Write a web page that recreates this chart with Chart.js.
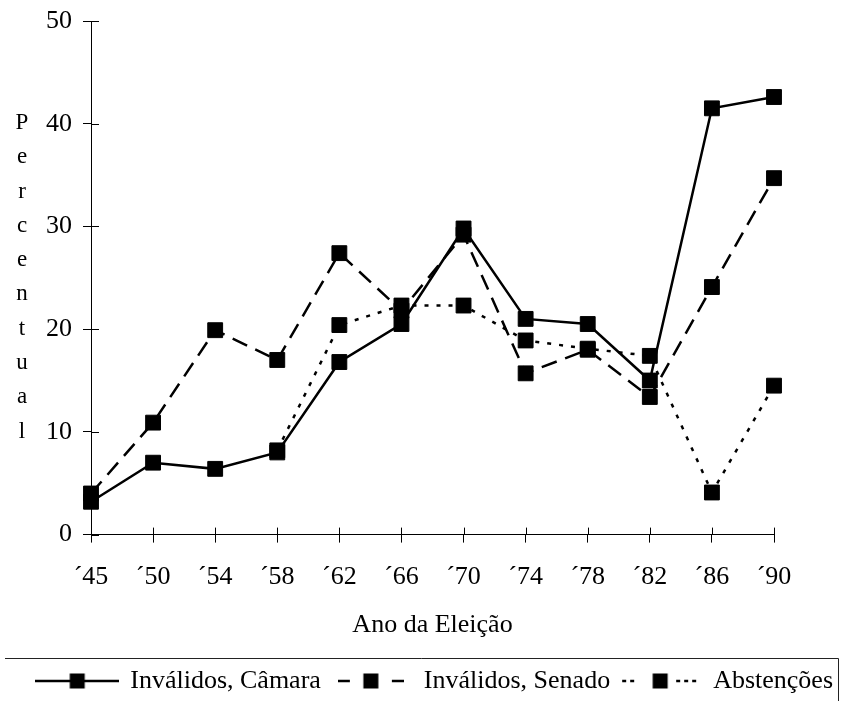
<!DOCTYPE html>
<html>
<head>
<meta charset="utf-8">
<script src="https://cdn.jsdelivr.net/npm/chart.js@4.4.1/dist/chart.umd.min.js"></script>
<style>
  html, body { margin: 0; padding: 0; background: #fff; }
  #wrap { position: relative; width: 843px; height: 711px; }
  #ytitle {
    position: absolute; left: 10px; top: 105px; width: 24px;
    font-family: "Liberation Serif", "Times New Roman", serif;
    font-size: 23px; line-height: 34.3px; text-align: center; color: #000;
  }
</style>
</head>
<body>
<div id="wrap">
  <canvas id="c" width="843" height="711"></canvas>
  <div id="ytitle"></div>
</div>
<script>
// ---- data ----
const years = ['´45', '´50', '´54', '´58', '´62', '´66', '´70', '´74', '´78', '´82', '´86', '´90'];
const invalidosCamara = [3.2, 7.0, 6.4, 8.0, 16.8, 20.5, 29.8, 21.0, 20.5, 15.0, 41.5, 42.6];
const invalidosSenado = [4.0, 10.9, 19.9, 17.0, 27.4, 21.8, 29.2, 15.7, 18.0, 13.4, 24.1, 34.7];
const abstencoes = [null, null, null, 8.2, 20.4, 22.3, 22.3, 18.9, 18.1, 17.4, 4.1, 14.5];
const yTicks = [0, 10, 20, 30, 40, 50];
const seriesNames = ['Inválidos, Câmara', 'Inválidos, Senado', 'Abstenções'];
const xTitle = 'Ano da Eleição';
const yTitle = 'Percentual';

document.getElementById('ytitle').innerHTML = yTitle.split('').map(ch => '<div>' + ch + '</div>').join('');

const FONT = '"Liberation Serif", "Times New Roman", serif';

function makeGlyph(kind) {
  const c = document.createElement('canvas');
  const w = kind === 'solid' ? 84 : (kind === 'dash' ? 66 : 84);
  c.width = w; c.height = 20;
  const g = c.getContext('2d');
  g.fillStyle = '#000'; g.strokeStyle = '#000'; g.lineWidth = 2.5;
  const mid = w / 2, y = 10;
  if (kind === 'solid') {
    g.beginPath(); g.moveTo(0, y); g.lineTo(w, y); g.stroke();
  } else if (kind === 'dash') {
    g.fillRect(mid - 33, y - 1.25, 12, 2.5);
    g.fillRect(mid + 21, y - 1.25, 12, 2.5);
  } else {
    [-38, -30, 16, 24, 32].forEach(o => g.fillRect(mid + o, y - 1.25, 4, 2.5));
  }
  g.fillRect(mid - 7.5, y - 7.5, 15, 15);
  return c;
}
const glyphs = [makeGlyph('solid'), makeGlyph('dash'), makeGlyph('dot')];

const innerTicks = {
  id: 'innerTicks',
  afterDraw(chart) {
    const ctx = chart.ctx, xs = chart.scales.x, ys = chart.scales.y;
    ctx.save();
    ctx.strokeStyle = '#000'; ctx.lineWidth = 1;
    const ax = ys.right, ay = xs.top;
    yTicks.forEach(v => {
      const py = Math.round(ys.getPixelForValue(v)) + 0.5;
      ctx.beginPath(); ctx.moveTo(ax, py); ctx.lineTo(ax + 8, py); ctx.stroke();
    });
    years.forEach((_, i) => {
      const px = Math.round(xs.getPixelForValue(i)) + 0.5;
      ctx.beginPath(); ctx.moveTo(px, ay); ctx.lineTo(px, ay - 7); ctx.stroke();
    });
    // legend frame (top and right edges)
    const lg = chart.legend;
    if (lg && lg.legendHitBoxes && lg.legendHitBoxes.length) {
      const hb = lg.legendHitBoxes[0];
      const cy = hb.top + hb.height / 2;
      const top = Math.round(cy - 23) + 0.5;
      ctx.strokeStyle = '#222';
      ctx.beginPath(); ctx.moveTo(5, top); ctx.lineTo(838.5, top); ctx.lineTo(838.5, cy + 20); ctx.stroke();
    }
    ctx.restore();
  }
};

const common = { fill: false, tension: 0, borderColor: '#000', backgroundColor: '#000',
  borderWidth: 2.5, pointStyle: 'rect', pointRadius: 10.5, pointHoverRadius: 10.5,
  pointBackgroundColor: '#000', pointBorderColor: '#000', pointBorderWidth: 1 };

new Chart(document.getElementById('c'), {
  type: 'line',
  data: {
    labels: years,
    datasets: [
      Object.assign({ label: seriesNames[0], data: invalidosCamara }, common),
      Object.assign({ label: seriesNames[1], data: invalidosSenado, borderDash: [16, 9] }, common),
      Object.assign({ label: seriesNames[2], data: abstencoes, borderDash: [4, 8] }, common)
    ]
  },
  options: {
    responsive: false,
    animation: false,
    devicePixelRatio: 1,
    layout: { padding: { top: 21, right: 0, left: 0, bottom: 7 } },
    plugins: {
      tooltip: { enabled: false },
      legend: {
        position: 'bottom',
        align: 'end',
        labels: {
          usePointStyle: true,
          pointStyleWidth: 80,
          padding: 10,
          color: '#000',
          font: { family: FONT, size: 26 },
          generateLabels(chart) {
            return chart.data.datasets.map((d, i) => ({
              text: d.label, pointStyle: glyphs[i], fillStyle: '#000', strokeStyle: '#000',
              lineWidth: 0, hidden: false, datasetIndex: i, fontColor: '#000'
            }));
          }
        }
      }
    },
    scales: {
      x: {
        type: 'category',
        offset: false,
        grid: { display: true, drawOnChartArea: false, drawTicks: true, tickLength: 8, color: '#000' },
        border: { display: true, color: '#000', width: 1 },
        ticks: { color: '#000', font: { family: FONT, size: 26 }, padding: 19, maxRotation: 0, autoSkip: false },
        title: { display: true, text: xTitle, color: '#000', font: { family: FONT, size: 26 }, padding: { top: -2, bottom: 17 } }
      },
      y: {
        min: 0, max: 50,
        afterFit(s) { s.width = 91; s.paddingTop = 0; },
        afterBuildTicks(s) { s.ticks = yTicks.map(v => ({ value: v })); },
        grid: { display: true, drawOnChartArea: false, drawTicks: true, tickLength: 8, color: '#000' },
        border: { display: true, color: '#000', width: 1 },
        ticks: { color: '#000', font: { family: FONT, size: 26 }, padding: 11 }
      },
      rightSpace: {
        type: 'linear',
        position: 'right',
        display: true,
        afterFit(s) { s.width = 69; s.paddingTop = 0; },
        grid: { display: false, drawTicks: false },
        border: { display: false },
        ticks: { display: false }
      }
    }
  },
  plugins: [innerTicks]
});
</script>
</body>
</html>
